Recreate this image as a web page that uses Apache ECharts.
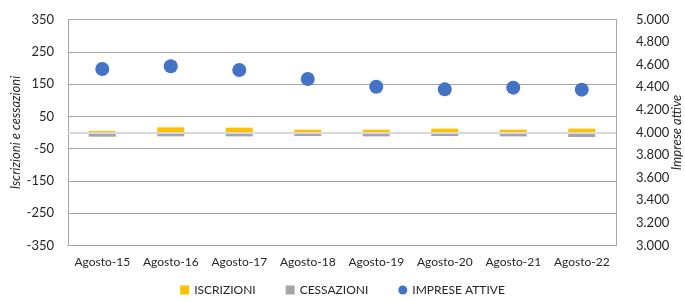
<!DOCTYPE html>
<html>
<head>
<meta charset="utf-8">
<script src="https://cdn.jsdelivr.net/npm/echarts@6/dist/echarts.min.js"></script>
<style>
  html, body { margin: 0; padding: 0; background: #fff; }
  #chart { width: 685px; height: 302px; }
</style>
</head>
<body>
<div id="chart"></div>
<script>
// dati
var mesi = ['Agosto-15', 'Agosto-16', 'Agosto-17', 'Agosto-18', 'Agosto-19', 'Agosto-20', 'Agosto-21', 'Agosto-22'];
var iscrizioni = [5, 16, 15, 9, 9, 12, 9, 12];
var cessazioni = [-13, -12, -12, -11, -12, -11, -12, -14];
var impreseAttive = [4562, 4586, 4553, 4473, 4405, 4382, 4397, 4379];

var font = 'Lato';
var testo = '#262626';

var chart = echarts.init(document.getElementById('chart'));

var option = {
    animation: false,
    textStyle: { fontFamily: font },
    grid: { left: 68, right: 69, top: 19.5, bottom: 56.5, outerBoundsMode: 'none' },
    legend: {
        bottom: 1,
        left: 'center',
        itemWidth: 9,
        itemHeight: 9,
        itemGap: 30,
        textStyle: { fontFamily: font, fontSize: 12, color: testo },
        data: [
            { name: 'ISCRIZIONI', icon: 'rect' },
            { name: 'CESSAZIONI', icon: 'rect' },
            { name: 'IMPRESE ATTIVE', icon: 'circle' }
        ]
    },
    xAxis: {
        type: 'category',
        data: mesi,
        axisLine: { onZero: false, lineStyle: { color: '#a6a6a6' } },
        axisTick: { show: false },
        axisLabel: { color: testo, fontSize: 12, margin: 11, interval: 0 }
    },
    yAxis: [
        {
            type: 'value',
            min: -350,
            max: 350,
            interval: 100,
            name: 'Iscrizioni e cessazioni',
            nameLocation: 'middle',
            nameRotate: 90,
            nameGap: 46,
            nameMoveOverlap: false,
            nameTextStyle: { fontStyle: 'italic', fontSize: 13, color: testo },
            axisLine: { show: true, lineStyle: { color: '#a6a6a6' } },
            axisTick: { show: false },
            axisLabel: { color: testo, fontSize: 13, margin: 14 },
            splitLine: { lineStyle: { color: '#a6a6a6' } }
        },
        {
            type: 'value',
            min: 3000,
            max: 5000,
            interval: 200,
            name: 'Imprese attive',
            nameLocation: 'middle',
            nameRotate: 90,
            nameGap: 54,
            nameMoveOverlap: false,
            nameTextStyle: { fontStyle: 'italic', fontSize: 13, color: testo },
            axisLine: { show: true, lineStyle: { color: '#a6a6a6' } },
            axisTick: { show: false },
            axisLabel: {
                color: testo,
                fontSize: 13,
                margin: 20,
                // formato migliaia con punto
                formatter: function (v) {
                    return (v / 1000).toFixed(3);
                }
            },
            splitLine: { show: false }
        }
    ],
    series: [
        {
            name: 'ISCRIZIONI',
            type: 'bar',
            data: iscrizioni,
            barWidth: 27,
            itemStyle: { color: '#FFC000' },
            markLine: {
                silent: true,
                symbol: 'none',
                label: { show: false },
                lineStyle: { color: '#d9d9d9', width: 2, type: 'solid' },
                data: [{ yAxis: 0 }]
            },
            z: 3
        },
        {
            name: 'CESSAZIONI',
            type: 'bar',
            data: cessazioni,
            barWidth: 27,
            barGap: '-100%',
            itemStyle: { color: '#A5A5A5' },
            z: 3
        },
        {
            name: 'IMPRESE ATTIVE',
            type: 'scatter',
            yAxisIndex: 1,
            data: impreseAttive,
            symbolSize: 14,
            itemStyle: { color: '#4472C4', opacity: 1 },
            z: 4
        }
    ]
};

chart.setOption(option);
</script>
</body>
</html>
